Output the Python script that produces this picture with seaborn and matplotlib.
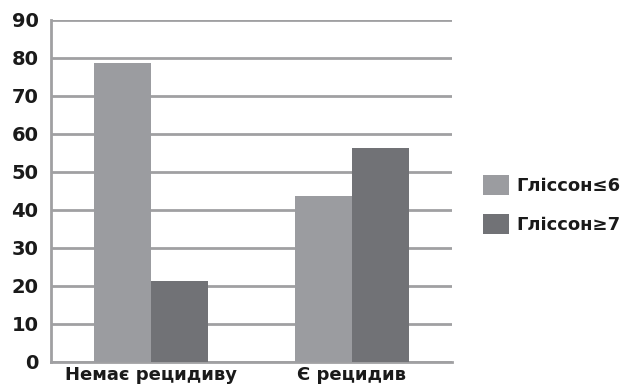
import matplotlib
matplotlib.use("Agg")
import matplotlib.pyplot as plt
import seaborn as sns
import pandas as pd

categories = ["Немає рецидиву", "Є рецидив"]
series = ["Гліссон≤6", "Гліссон≥7"]
gleason_le6 = [78.6, 43.6]
gleason_ge7 = [21.4, 56.4]
yticks = [0, 10, 20, 30, 40, 50, 60, 70, 80, 90]

df = pd.DataFrame({
    "category": categories * 2,
    "series": [series[0]] * 2 + [series[1]] * 2,
    "value": gleason_le6 + gleason_ge7,
})

sns.set_theme(style="white")
plt.rcParams["font.family"] = ["DejaVu Sans"]

grid_c = "#a0a0a2"
text_c = "#1a1a1a"
fig = plt.figure(figsize=(6.33, 3.9), dpi=100)
ax = fig.add_axes([0.0806, 0.0718, 0.6335, 0.877])

sns.barplot(data=df, x="category", y="value", hue="series", ax=ax,
            palette=["#9b9ca0", "#717276"], width=0.57, saturation=1,
            edgecolor="none", linewidth=0, zorder=3)

ax.set_ylim(0, 90)
ax.set_xlim(-0.5, 1.5)
ax.set_yticks(yticks)
ax.set_yticklabels([str(v) for v in yticks], fontsize=14, fontweight="bold",
                   color=text_c)
ax.yaxis.grid(True, color=grid_c, linewidth=2, zorder=0)
ax.set_axisbelow(True)

# category boundaries carry the x ticks
ax.set_xticks([-0.5, 0.5, 1.5], minor=False)
ax.set_xticklabels([])
ax.set_xticks([0, 1], minor=True)
ax.set_xticklabels(categories, minor=True, fontsize=13, fontweight="bold",
                   color=text_c)
ax.tick_params(axis="x", which="major", length=5, width=2, color=grid_c,
               direction="out")
ax.tick_params(axis="x", which="minor", length=0, pad=3)
ax.tick_params(axis="y", length=5, width=2, color=grid_c, pad=4)

for s in ["top", "right"]:
    ax.spines[s].set_visible(False)
for s in ["left", "bottom"]:
    ax.spines[s].set_color(grid_c)
    ax.spines[s].set_linewidth(2)

ax.set_xlabel("")
ax.set_ylabel("")
leg = ax.legend(loc="center left", bbox_to_anchor=(1.06, 0.46), frameon=False,
                prop={"size": 13, "weight": "bold"}, handlelength=1.45,
                handleheight=1.3, labelspacing=1.05, handletextpad=0.4,
                borderaxespad=0)
for t in leg.get_texts():
    t.set_color(text_c)

fig.savefig("out.png", dpi=100)
